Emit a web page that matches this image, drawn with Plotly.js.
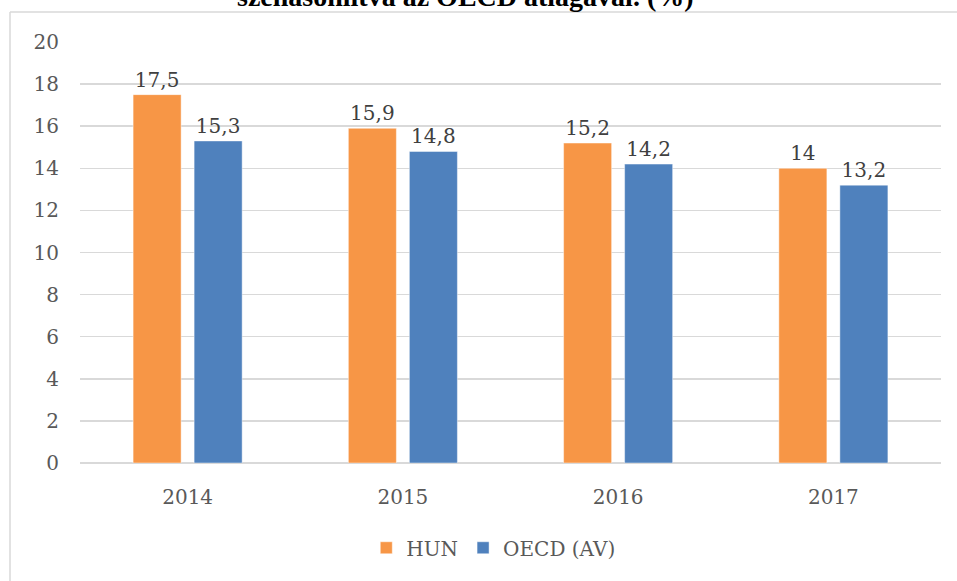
<!DOCTYPE html>
<html>
<head>
<meta charset="utf-8">
<script src="https://cdn.plot.ly/plotly-3.0.1.min.js"></script>
<style>
html,body{margin:0;padding:0;background:#fff;}
#chart{width:957px;height:581px;}
</style>
</head>
<body>
<div id="chart"></div>
<script>
const years = ['2014', '2015', '2016', '2017'];
const hunValues = [17.5, 15.9, 15.2, 14];
const oecdValues = [15.3, 14.8, 14.2, 13.2];
const seriesNames = ['HUN', 'OECD (AV)'];
const yTicks = [0, 2, 4, 6, 8, 10, 12, 14, 16, 18, 20];
const titleText = 'szehasonlítva az OECD átlagával. (%)';

const fmt = v => String(v).replace('.', ',');
const serif = 'DejaVu Serif, Liberation Serif, serif';

const traces = [
  {
    type: 'bar', name: seriesNames[0], x: years, y: hunValues,
    text: hunValues.map(fmt), textposition: 'outside', cliponaxis: false,
    textfont: {family: serif, size: 20, color: '#404040'},
    marker: {color: '#F79646', line: {color: 'rgba(255,255,255,0.45)', width: 1}},
    hoverinfo: 'none'
  },
  {
    type: 'bar', name: seriesNames[1], x: years, y: oecdValues,
    text: oecdValues.map(fmt), textposition: 'outside', cliponaxis: false,
    textfont: {family: serif, size: 20, color: '#404040'},
    marker: {color: '#4F81BD', line: {color: 'rgba(255,255,255,0.45)', width: 1}},
    hoverinfo: 'none'
  }
];

const layout = {
  width: 957, height: 581,
  margin: {l: 80, r: 16, t: 42, b: 118, autoexpand: false},
  paper_bgcolor: '#ffffff', plot_bgcolor: '#ffffff',
  font: {family: serif, size: 20, color: '#595959'},
  barmode: 'group', bargap: 0.433, bargroupgap: 0.213,
  showlegend: true,
  legend: {orientation: 'h', x: 0.48, xanchor: 'center', y: -0.155, yanchor: 'top',
           font: {family: serif, size: 20, color: '#595959'}, itemwidth: 30},
  xaxis: {type: 'category', showgrid: false, zeroline: false, showline: false, automargin: false,
          ticks: '', tickfont: {family: serif, size: 20, color: '#595959'}, ticklabelstandoff: 20},
  yaxis: {range: [0, 20], tickvals: yTicks, ticktext: yTicks.map(String), automargin: false,
          showgrid: true, gridcolor: '#D9D9D9', gridwidth: 1.5, zeroline: true, zerolinecolor: '#D9D9D9',
          zerolinewidth: 1.5, showline: false, ticks: '',
          tickfont: {family: serif, size: 20, color: '#595959'}, ticklabelstandoff: 20},
  shapes: [
    {type: 'line', xref: 'paper', yref: 'paper', x0: -0.0813, x1: -0.0813, y0: 1.0713, y1: -0.3, line: {color: '#D9D9D9', width: 1.5}, layer: 'below'},
    {type: 'line', xref: 'paper', yref: 'paper', x0: -0.0813, x1: 1.03, y0: 1.0713, y1: 1.0713, line: {color: '#D9D9D9', width: 1.5}, layer: 'below'}
  ],
  annotations: [
    {text: '<b>' + titleText + '</b>', xref: 'paper', yref: 'paper', x: 0.448, y: 1, xanchor: 'center', yanchor: 'bottom',
     yshift: 28, showarrow: false, font: {family: 'Liberation Serif, serif', size: 28, color: '#000000'}}
  ]
};

Plotly.newPlot('chart', traces, layout, {displayModeBar: false, staticPlot: true});
</script>
</body>
</html>
